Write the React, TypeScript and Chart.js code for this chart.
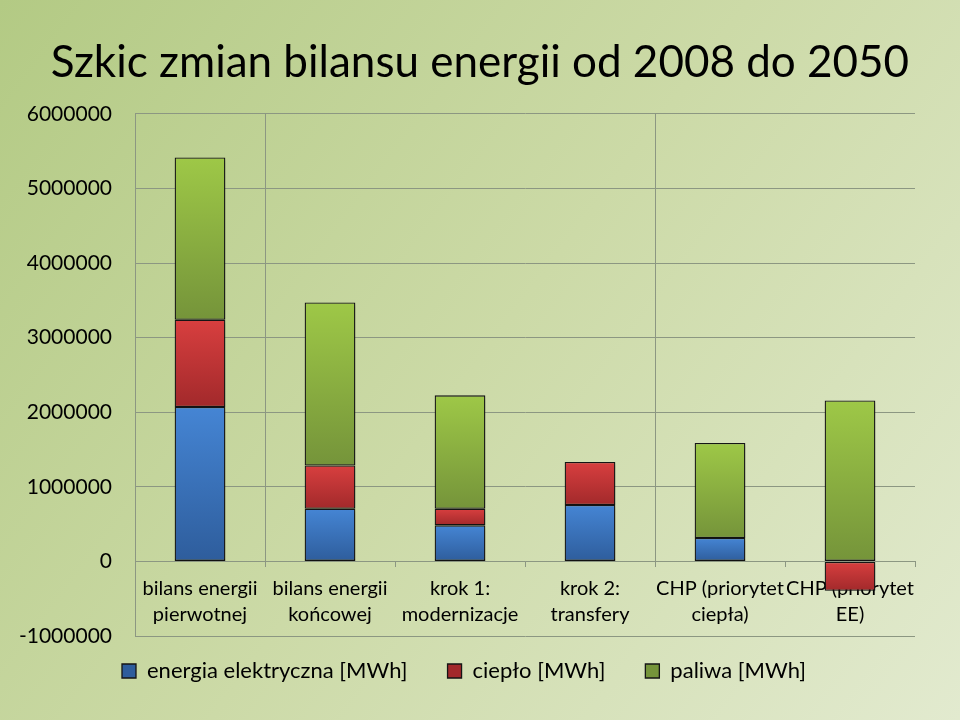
import React, { useEffect, useRef } from 'react';
import { Chart, registerables } from 'chart.js';

Chart.register(...registerables);

// ---- data ----
const categories: string[][] = [
  ['bilans energii', 'pierwotnej'],
  ['bilans energii', 'końcowej'],
  ['krok 1:', 'modernizacje'],
  ['krok 2:', 'transfery'],
  ['CHP (priorytet', 'ciepła)'],
  ['CHP (priorytet', 'EE)'],
];
const seriesNames = ['energia elektryczna [MWh]', 'ciepło [MWh]', 'paliwa [MWh]'];
const electricity: (number | null)[] = [2070000, 706000, 483000, 756000, 314000, null];
const heat: (number | null)[] = [1170000, 580000, 223000, 576000, null, -393000];
const fuels: (number | null)[] = [2175000, 2185000, 1520000, null, 1273000, 2158000];
const yMin = -1000000;
const yMax = 6000000;
const yStep = 1000000;
const titleText = 'Szkic zmian bilansu energii od 2008 do 2050';

// ---- styles ----
const FONT = 'Lato';
const GRID = '#8c9782';
const palettes = [
  ['#4585d4', '#3a72bd', '#2e5d9c'],
  ['#d83f3f', '#c03636', '#a2292b'],
  ['#9ec847', '#8aaf3f', '#75943a'],
];
const seriesData = [electricity, heat, fuels];

function segmentFill(ctx: any, d: number) {
  const [top, mid, bottom] = palettes[d];
  if (ctx.type !== 'data') return mid;
  const chart = ctx.chart;
  const y = chart.scales && chart.scales.y;
  if (!y || !chart.chartArea) return mid;
  const i = ctx.dataIndex;
  const v = seriesData[d][i] ?? 0;
  let base = 0;
  for (let k = 0; k < d; k++) {
    const w = seriesData[k][i] ?? 0;
    if ((w < 0) === (v < 0)) base += w;
  }
  const p0 = y.getPixelForValue(base);
  const p1 = y.getPixelForValue(base + v);
  const yTop = Math.min(p0, p1);
  const yBot = Math.max(p0, p1);
  if (!isFinite(yTop) || !isFinite(yBot) || yBot - yTop < 1) return mid;
  const g = chart.ctx.createLinearGradient(0, yTop, 0, yBot);
  g.addColorStop(0, top);
  g.addColorStop(1, bottom);
  return g;
}

const backdrop = {
  id: 'backdrop',
  beforeDraw(chart: any) {
    const { ctx, width, height } = chart;
    ctx.save();
    const g = ctx.createLinearGradient(0, 0, width, height);
    g.addColorStop(0, '#b3ca84');
    g.addColorStop(0.5, '#ccdaa7');
    g.addColorStop(1, '#e2eacf');
    ctx.fillStyle = g;
    ctx.fillRect(0, 0, width, height);
    ctx.restore();
  },
};

const dividerAfter = [0, 3];
const dividers = {
  id: 'dividers',
  beforeDatasetsDraw(chart: any) {
    const x = chart.scales.x;
    const y = chart.scales.y;
    const ctx = chart.ctx;
    ctx.save();
    ctx.strokeStyle = GRID;
    ctx.lineWidth = 1;
    for (const i of dividerAfter) {
      const px = Math.round((x.getPixelForValue(i) + x.getPixelForValue(i + 1)) / 2) + 0.5;
      ctx.beginPath();
      ctx.moveTo(px, y.getPixelForValue(yMax));
      ctx.lineTo(px, y.getPixelForValue(0) + 5);
      ctx.stroke();
    }
    ctx.restore();
  },
};

const barShadow = {
  id: 'barShadow',
  beforeDatasetDraw(chart: any) {
    const ctx = chart.ctx;
    ctx.save();
    ctx.shadowColor = 'rgba(0,0,0,0.22)';
    ctx.shadowBlur = 3;
    ctx.shadowOffsetX = 1.5;
    ctx.shadowOffsetY = 2;
  },
  afterDatasetDraw(chart: any) {
    chart.ctx.restore();
  },
};

const legendNudge = {
  id: 'legendNudge',
  afterLayout(chart: any) {
    const lg = chart.legend;
    if (!lg) return;
    lg.top -= 16;
    lg.bottom -= 16;
    lg.left -= 16;
    lg.right -= 16;
  },
};

export default function App() {
  const ref = useRef<HTMLCanvasElement | null>(null);

  useEffect(() => {
    if (!ref.current) return;
    const chart = new Chart(ref.current, {
      type: 'bar',
      data: {
        labels: categories,
        datasets: seriesData.map((arr, d) => ({
          label: seriesNames[d],
          data: arr,
          backgroundColor: (ctx: any) => segmentFill(ctx, d),
          borderColor: '#151515',
          borderWidth: 1.3,
          borderSkipped: false,
          barPercentage: 0.39,
          categoryPercentage: 1,
        })),
      },
      options: {
        responsive: false,
        animation: false,
        devicePixelRatio: 1,
        layout: { padding: { left: 0, right: 0, top: 0, bottom: 12 } },
        scales: {
          x: {
            stacked: true,
            position: { y: 0 } as any,
            grid: {
              drawOnChartArea: false,
              drawTicks: true,
              tickLength: 5,
              color: GRID,
            },
            border: { display: true, color: GRID, width: 1 },
            ticks: {
              color: '#000',
              font: { family: FONT, size: 20, lineHeight: 1.3 },
              padding: 9,
              maxRotation: 0,
              minRotation: 0,
              autoSkip: false,
            },
          },
          y: {
            stacked: true,
            min: yMin,
            max: yMax,
            grid: { color: GRID, drawTicks: false, lineWidth: 1 },
            border: { display: true, color: GRID, width: 1 },
            ticks: {
              stepSize: yStep,
              color: '#000',
              font: { family: FONT, size: 21 },
              padding: 23,
              callback: (v: any) => String(v),
            },
            afterFit: (s: any) => {
              s.width = 135;
            },
          },
          y2: {
            position: 'right',
            display: true,
            grid: { display: false },
            border: { display: false },
            ticks: { display: false },
            afterFit: (s: any) => {
              s.width = 45;
            },
          },
        },
        plugins: {
          title: {
            display: true,
            text: titleText,
            color: '#000',
            font: { family: FONT, size: 44, weight: 'normal' },
            padding: { top: 36, bottom: 25 },
          },
          legend: {
            display: true,
            position: 'bottom',
            labels: {
              color: '#000',
              font: { family: FONT, size: 22 },
              boxWidth: 14,
              boxHeight: 14,
              padding: 40,
            },
          },
          tooltip: { enabled: false },
        },
      },
      plugins: [backdrop, dividers, barShadow, legendNudge],
    } as any);
    return () => chart.destroy();
  }, []);

  return (
    <div style={{ position: 'absolute', left: 0, top: 0, width: 960, height: 720 }}>
      <canvas ref={ref} width={960} height={720} style={{ display: 'block' }} />
    </div>
  );
}
